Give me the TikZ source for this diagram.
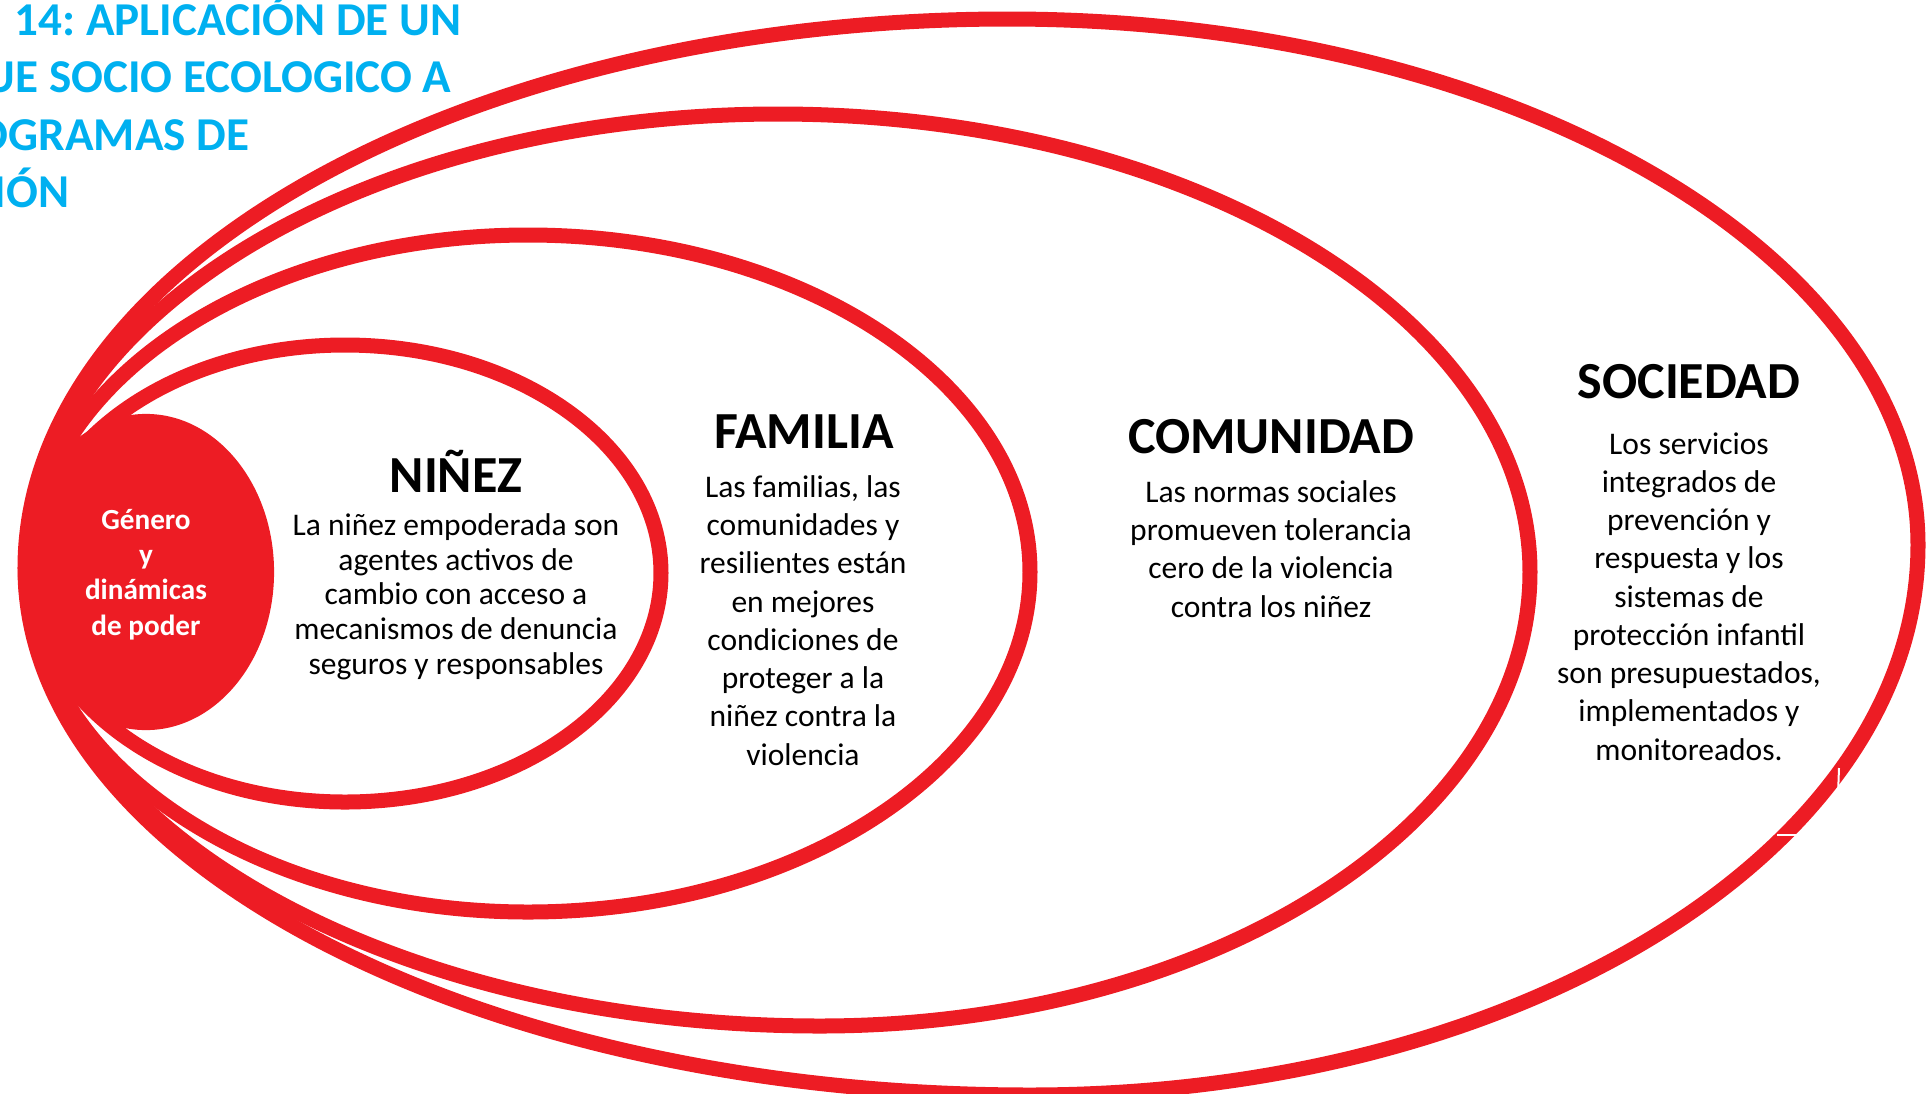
\documentclass[tikz,border=0pt]{standalone}
\usepackage{fontspec}
\setmainfont{Carlito}
\frenchspacing
\definecolor{ered}{RGB}{237,28,36}
\definecolor{tcyan}{RGB}{0,176,240}
\newcommand\eggpath[8]{%
 (#1,#2) .. controls (#1,{#2-0.5523*(#2-#4)}) and ({#3-0.5523*(#3-#1)},#4) .. (#3,#4)
 .. controls ({#3+0.5523*(#5-#3)},#4) and (#5,{#6-0.5523*(#6-#4)}) .. (#5,#6)
 .. controls (#5,{#6+0.5523*(#8-#6)}) and ({#7+0.5523*(#5-#7)},#8) .. (#7,#8)
 .. controls ({#7-0.5523*(#7-#1)},#8) and (#1,{#2+0.5523*(#8-#2)}) .. (#1,#2) -- cycle}
\begin{document}
\begin{tikzpicture}[x=0.01cm,y=-0.01cm,
  ring/.style={draw=ered,line width=0.15cm,line join=round},
  ttl/.style={font=\bfseries\fontsize{13.4}{16}\selectfont,text=tcyan,inner sep=0pt,anchor=base east},
  head/.style={font=\bfseries\fontsize{14.8}{17}\selectfont,inner sep=0pt,anchor=base},
  bodyA/.style={font=\fontsize{8.96}{9.82}\selectfont,align=center,inner sep=0pt,anchor=base},
  bodyB/.style={font=\fontsize{8.96}{10.87}\selectfont,align=center,inner sep=0pt,anchor=base},
  core/.style={font=\bfseries\fontsize{8.3}{9.96}\selectfont,text=white,align=center,inner sep=0pt,anchor=base}]
\useasboundingbox (0,0) rectangle (1926,1093);
% rings
\draw[ring] \eggpath{25}{568}{1008}{19}{1918}{545}{1030}{1095};
\draw[ring] \eggpath{28}{568}{778}{114}{1530}{572}{820}{1026};
\draw[ring] \eggpath{29}{572}{528}{235}{1030}{572}{528}{912};
\draw[ring] \eggpath{30}{573}{345}{345}{661}{573}{345}{802};
% core
\fill[ered] (146,572) ellipse [x radius=1.28cm, y radius=1.58cm];
% small white cuts
\draw[white,line width=0.02cm] (1839,768) -- (1838,795);
\draw[white,line width=0.02cm] (1777,835) -- (1802,835);
% title
\node[ttl] (t1) at (462,35) {14: APLICACIÓN DE UN};
\node[ttl] (t2) at (452,92) {UE SOCIO ECOLOGICO A};
\node[ttl] (t3) at (250,150) {OGRAMAS DE};
\node[ttl] (t4) at (70,207) {IÓN};
% texts (multi-line nodes anchored at the baseline of their last line)
\node[core] (gen) at (146,635) {Género\\y\\dinámicas\\de poder};
\node[head] (h1) at (456,492) {NIÑEZ};
\node[bodyA] (b1) at (456,674) {La niñez empoderada son\\agentes activos de\\cambio con acceso a\\mecanismos de denuncia\\seguros y responsables};
\node[head] (h2) at (804,448) {FAMILIA};
\node[bodyB] (b2) at (803,765) {Las familias, las\\comunidades y\\resilientes están\\en mejores\\condiciones de\\proteger a la\\niñez contra la\\violencia};
\node[head] (h3) at (1271,453) {COMUNIDAD};
\node[bodyB] (b3) at (1271,617) {Las normas sociales\\promueven tolerancia\\cero de la violencia\\contra los niñez};
\node[head] (h4) at (1689,398) {SOCIEDAD};
\node[bodyB] (b4) at (1689,760) {Los servicios\\integrados de\\prevención y\\respuesta y los\\sistemas de\\protección infantil\\son presupuestados,\\implementados y\\monitoreados.};
\end{tikzpicture}
\end{document}
